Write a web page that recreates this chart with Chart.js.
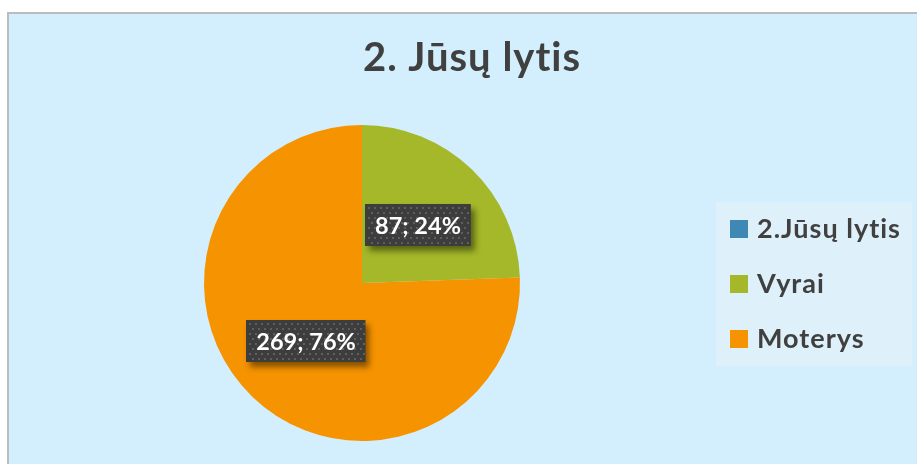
<!DOCTYPE html>
<html><head><meta charset="utf-8">
<script src="https://cdn.jsdelivr.net/npm/chart.js@4/dist/chart.umd.min.js"></script>
<style>html,body{margin:0;padding:0;background:#fff;overflow:hidden}#wrap{width:917px;height:464px;position:relative}</style>
</head><body><div id="wrap"><canvas id="c" width="917" height="464"></canvas></div>
<script>
const titleText = '2. Jūsų lytis';
const categories = ['2.Jūsų lytis', 'Vyrai', 'Moterys'];
const values = [0, 87, 269];
const colors = ['#3f88b6', '#a5b829', '#f59300'];
const FONT = 'Lato, "Open Sans", sans-serif';

const framePlugin = {
  id: 'frame',
  beforeDraw(chart) {
    const ctx = chart.ctx;
    ctx.save();
    ctx.fillStyle = '#ffffff';
    ctx.fillRect(0, 0, chart.width, chart.height);
    ctx.fillStyle = '#d3effd';
    ctx.fillRect(7, 12, chart.width, chart.height);
    ctx.strokeStyle = '#bcbcbc';
    ctx.lineWidth = 2;
    ctx.beginPath();
    ctx.moveTo(8, chart.height + 2);
    ctx.lineTo(8, 13);
    ctx.lineTo(chart.width + 2, 13);
    ctx.stroke();
    // title
    ctx.fillStyle = '#404040';
    ctx.font = 'bold 40px ' + FONT;
    ctx.letterSpacing = '1px';
    ctx.textAlign = 'left';
    ctx.textBaseline = 'alphabetic';
    const tw = ctx.measureText(titleText).width;
    ctx.fillText(titleText, 472 - tw / 2, 71);
    // legend
    ctx.fillStyle = '#def0f9';
    ctx.fillRect(716, 202, 196, 164);
    ctx.font = 'bold 27px ' + FONT;
    ctx.letterSpacing = '1px';
    ctx.textAlign = 'left';
    ctx.textBaseline = 'alphabetic';
    const ys = [228.5, 283.5, 338.5];
    categories.forEach((c, i) => {
      ctx.fillStyle = colors[i];
      ctx.fillRect(730, Math.round(ys[i] - 9), 18, 18);
      ctx.fillStyle = '#404040';
      ctx.fillText(c, 757, ys[i] + 9.5);
    });
    ctx.restore();
  },
  afterDatasetsDraw(chart) {
    const ctx = chart.ctx;
    const meta = chart.getDatasetMeta(0);
    const total = values.reduce((a, b) => a + b, 0);
    ctx.save();
    ctx.font = 'bold 23.5px ' + FONT;
    meta.data.forEach((arc, i) => {
      if (!values[i]) return;
      const p = arc.getProps(['x', 'y', 'startAngle', 'endAngle', 'outerRadius']);
      const mid = (p.startAngle + p.endAngle) / 2;
      const r = p.outerRadius * 0.51;
      const cx = p.x + Math.cos(mid) * r;
      const cy = p.y + Math.sin(mid) * r;
      const txt = values[i] + '; ' + Math.round(values[i] / total * 100) + '%';
      const w = ctx.measureText(txt).width + 20;
      const h = 42;
      const x0 = Math.round(cx - w / 2), y0 = Math.round(cy - h / 2);
      ctx.save();
      ctx.shadowColor = 'rgba(0,0,0,0.45)';
      ctx.shadowBlur = 6;
      ctx.shadowOffsetX = 4;
      ctx.shadowOffsetY = 5;
      ctx.fillStyle = '#3d3d3d';
      ctx.fillRect(x0, y0, w, h);
      ctx.restore();
      ctx.fillStyle = 'rgba(105,105,105,0.75)';
      let row = 0;
      for (let yy = y0 + 3; yy < y0 + h - 1; yy += 5, row++) {
        for (let xx = x0 + 3 + (row % 2 ? 3 : 0); xx < x0 + w - 1; xx += 6) {
          ctx.fillRect(xx, yy, 2, 2);
        }
      }
      ctx.fillStyle = '#ffffff';
      ctx.textAlign = 'center';
      ctx.textBaseline = 'alphabetic';
      ctx.fillText(txt, cx, cy + 9);
    });
    ctx.restore();
  }
};

new Chart(document.getElementById('c'), {
  type: 'pie',
  data: {
    labels: categories,
    datasets: [{ data: values, backgroundColor: colors, borderWidth: 0 }]
  },
  options: {
    responsive: false,
    animation: false,
    layout: { padding: { left: 204, right: 397, top: 125, bottom: 23 } },
    plugins: { legend: { display: false }, title: { display: false }, tooltip: { enabled: false } }
  },
  plugins: [framePlugin]
});
</script></body></html>
